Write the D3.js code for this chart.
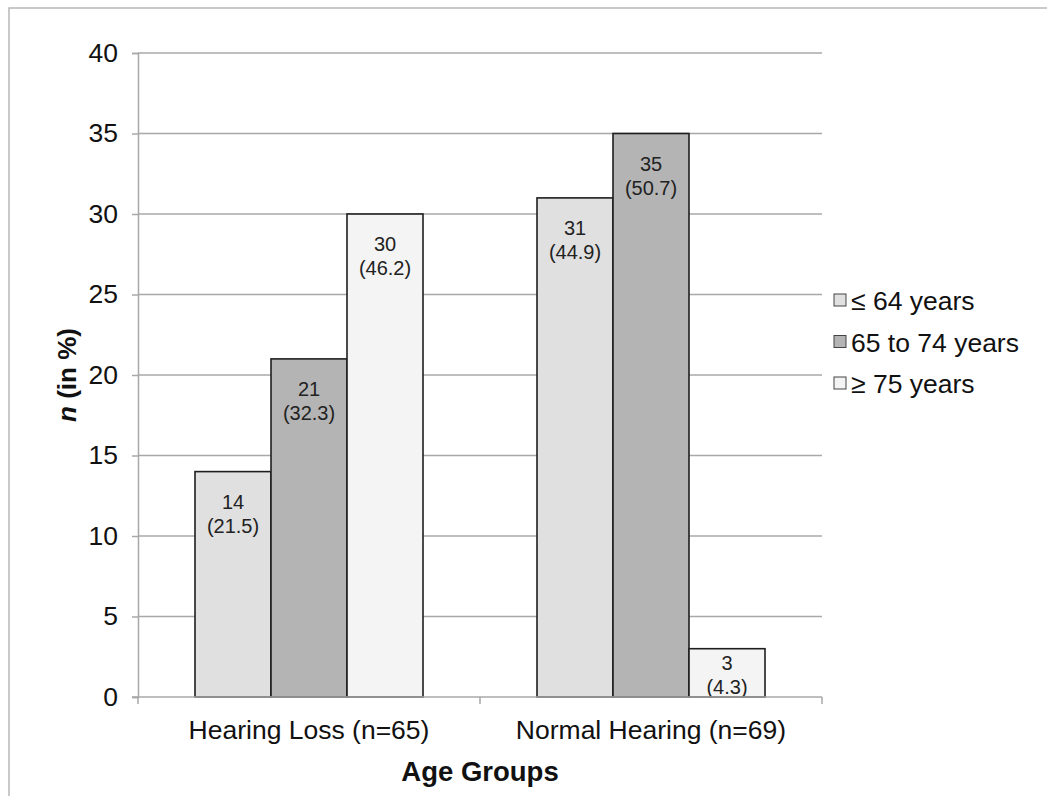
<!DOCTYPE html>
<html>
<head>
<meta charset="utf-8">
<script src="https://cdn.jsdelivr.net/npm/d3@7"></script>
<style>
  html, body { margin: 0; padding: 0; background: #fff; }
  svg { display: block; font-family: "Liberation Sans", Arial, Helvetica, sans-serif; }
</style>
</head>
<body>
<svg id="chart" width="1047" height="796"></svg>
<script>
// ---- data ----
const categories = ["Hearing Loss (n=65)", "Normal Hearing (n=69)"];
const seriesNames = ["\u2264 64 years", "65 to 74 years", "\u2265 75 years"];
const seriesCounts = [
  [14, 31],   // <= 64 years
  [21, 35],   // 65 to 74 years
  [30, 3]     // >= 75 years
];
const seriesPercents = [
  [21.5, 44.9],
  [32.3, 50.7],
  [46.2, 4.3]
];
const yTicks = [0, 5, 10, 15, 20, 25, 30, 35, 40];
const seriesColors = ["#e0e0e0", "#b4b4b4", "#f4f4f4"];

// ---- layout ----
const svg = d3.select("#chart");
const plot = { left: 138, right: 822, top: 53, bottom: 697 };

// outer frame
svg.append("rect")
  .attr("x", 9).attr("y", 8)
  .attr("width", 1100).attr("height", 900)
  .attr("fill", "none").attr("stroke", "#b8b8b8").attr("stroke-width", 1.5);

const y = d3.scaleLinear().domain([0, 40]).range([plot.bottom, plot.top]);
const x0 = d3.scaleBand().domain(categories).range([plot.left, plot.right]).padding(0);
const x1 = d3.scaleBand().domain(d3.range(seriesNames.length))
  .range([0, x0.bandwidth()]).paddingInner(0).paddingOuter(0.75);

const gridColor = "#a8a8a8";
const axisFont = "26.5px";

// gridlines
svg.append("g").selectAll("line").data(yTicks.filter(d => d > 0)).join("line")
  .attr("x1", plot.left).attr("x2", plot.right)
  .attr("y1", d => y(d)).attr("y2", d => y(d))
  .attr("stroke", gridColor).attr("stroke-width", 1.5);

// y axis
const yAxis = d3.axisLeft(y).tickValues(yTicks).tickSize(6).tickPadding(14).tickFormat(d3.format("d"));
const gy = svg.append("g").attr("transform", `translate(${plot.left},0)`).call(yAxis);
gy.select(".domain").attr("stroke", gridColor).attr("stroke-width", 1.5);
gy.selectAll(".tick line").attr("stroke", gridColor).attr("stroke-width", 1.5);
gy.selectAll(".tick text").attr("fill", "#111").style("font-size", axisFont)
  .style("font-family", "'Liberation Sans', Arial, sans-serif");

// bars
const groups = svg.append("g").selectAll("g").data(categories).join("g")
  .attr("transform", d => `translate(${x0(d)},0)`);

const lineGap = 24;
groups.each(function(cat, ci) {
  const g = d3.select(this);
  const items = seriesNames.map((s, si) => ({ si, v: seriesCounts[si][ci], p: seriesPercents[si][ci] }));
  g.selectAll("rect").data(items).join("rect")
    .attr("x", d => x1(d.si))
    .attr("y", d => y(d.v))
    .attr("width", x1.bandwidth())
    .attr("height", d => y(0) - y(d.v))
    .attr("fill", d => seriesColors[d.si])
    .attr("stroke", "#1e1e1e").attr("stroke-width", 1.6);
  // second-line baseline: inside top of bar, kept above the axis for short bars
  const base2 = d => Math.min(y(d.v) + 37 + lineGap, y(0) - 3);
  const lbl = g.selectAll("text.lbl").data(items).join("text")
    .attr("class", "lbl")
    .attr("text-anchor", "middle")
    .attr("fill", "#222")
    .style("font-size", "20px");
  lbl.append("tspan")
    .attr("x", d => x1(d.si) + x1.bandwidth() / 2)
    .attr("y", d => base2(d) - lineGap)
    .text(d => d.v);
  lbl.append("tspan")
    .attr("x", d => x1(d.si) + x1.bandwidth() / 2)
    .attr("y", d => base2(d))
    .text(d => `(${d.p})`);
});

// x axis
const xAxis = d3.axisBottom(x0).tickSize(0).tickPadding(23);
const gx = svg.append("g").attr("transform", `translate(0,${plot.bottom})`).call(xAxis);
gx.select(".domain").attr("stroke", gridColor).attr("stroke-width", 1.5)
  .attr("d", `M${plot.left - 6},0H${plot.right}`);
gx.selectAll(".tick text").attr("fill", "#111").style("font-size", axisFont)
  .style("font-family", "'Liberation Sans', Arial, sans-serif");
// category boundary ticks
const boundaries = [plot.left, x0(categories[1]), plot.right];
gx.append("g").selectAll("line").data(boundaries).join("line")
  .attr("x1", d => d).attr("x2", d => d).attr("y1", 0).attr("y2", 7)
  .attr("stroke", gridColor).attr("stroke-width", 1.5);

// axis titles
svg.append("text")
  .attr("x", (plot.left + plot.right) / 2).attr("y", 781)
  .attr("text-anchor", "middle").attr("font-weight", "bold")
  .style("font-size", "27.5px").attr("fill", "#111")
  .text("Age Groups");

const yt = svg.append("text")
  .attr("transform", `translate(76,${(plot.top + plot.bottom) / 2}) rotate(-90)`)
  .attr("text-anchor", "middle").attr("font-weight", "bold")
  .style("font-size", "26px").attr("fill", "#111");
yt.append("tspan").attr("font-style", "italic").text("n");
yt.append("tspan").text(" (in %)");

// legend
const legend = svg.append("g").selectAll("g").data(seriesNames).join("g")
  .attr("transform", (d, i) => `translate(834,${300 + i * 41.5})`);
legend.append("rect")
  .attr("x", 0).attr("y", -6).attr("width", 12).attr("height", 12)
  .attr("fill", (d, i) => seriesColors[i]).attr("stroke", "#444").attr("stroke-width", 1);
legend.append("text")
  .attr("x", 17).attr("y", 10)
  .style("font-size", axisFont).attr("fill", "#111")
  .text(d => d);
</script>
</body>
</html>
